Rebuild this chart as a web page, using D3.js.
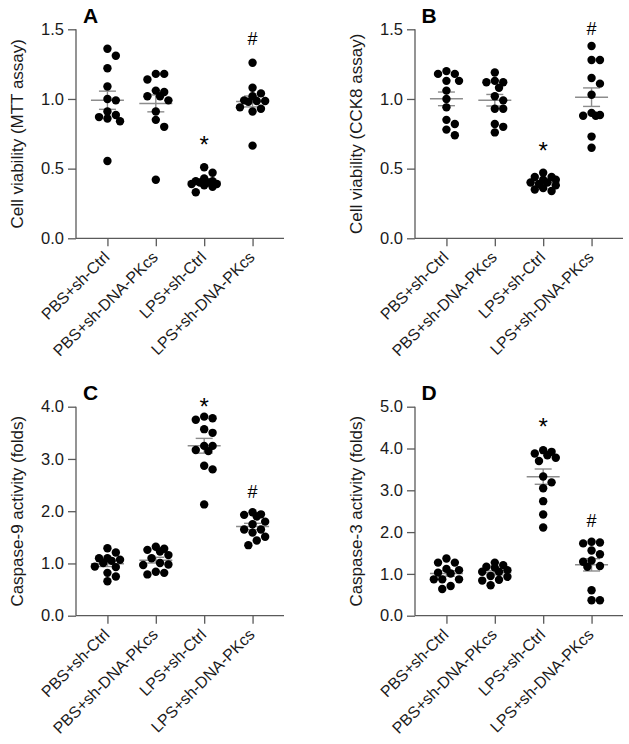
<!DOCTYPE html>
<html>
<head>
<meta charset="utf-8">
<script src="https://cdn.jsdelivr.net/npm/d3@7"></script>
<style>
  html, body { margin: 0; padding: 0; background: #fff; }
  svg { display: block; }
  text { font-family: "Liberation Sans", Arial, sans-serif; }
</style>
</head>
<body>
<svg id="chart" width="629" height="744"></svg>
<script>
// ---------------- DATA ----------------
const categories = ["PBS+sh-Ctrl", "PBS+sh-DNA-PKcs", "LPS+sh-Ctrl", "LPS+sh-DNA-PKcs"];

const mttValues = [
  [1.36, 1.31, 1.22, 1.09, 1.00, 0.99, 0.91, 0.885, 0.86, 0.87, 0.84, 0.555],
  [1.14, 1.18, 1.18, 1.02, 1.06, 1.02, 1.05, 0.99, 0.85, 0.91, 0.80, 0.42],
  [0.51, 0.47, 0.43, 0.41, 0.40, 0.39, 0.38, 0.40, 0.39, 0.41, 0.33, 0.37],
  [1.26, 1.08, 1.04, 1.02, 0.99, 0.985, 0.98, 0.985, 0.94, 0.93, 0.91, 0.665]
];
const cck8Values = [
  [1.18, 1.13, 1.20, 1.18, 1.13, 1.06, 1.00, 0.94, 0.85, 0.82, 0.78, 0.74],
  [1.19, 1.12, 1.13, 1.12, 1.08, 1.02, 0.99, 0.93, 0.93, 0.82, 0.80, 0.76],
  [0.47, 0.44, 0.44, 0.42, 0.42, 0.40, 0.39, 0.38, 0.40, 0.36, 0.35, 0.34],
  [1.38, 1.28, 1.28, 1.15, 1.11, 1.03, 0.90, 0.88, 0.885, 0.88, 0.73, 0.65]
];
const casp9Values = [
  [1.21, 1.29, 1.01, 1.10, 1.10, 1.07, 0.93, 0.94, 0.82, 0.75, 0.66, 1.05],
  [1.32, 1.28, 1.23, 1.26, 1.16, 1.10, 0.98, 1.01, 0.97, 0.82, 0.84, 0.79],
  [3.75, 3.78, 3.81, 3.50, 3.57, 3.25, 3.25, 3.17, 3.15, 2.87, 2.80, 2.13],
  [1.93, 1.90, 1.94, 1.98, 1.75, 1.80, 1.59, 1.65, 1.65, 1.51, 1.44, 1.35]
];
const casp3Values = [
  [1.37, 1.27, 1.27, 1.09, 1.12, 1.01, 1.03, 0.87, 0.87, 0.87, 0.64, 0.71],
  [1.21, 1.27, 1.17, 1.15, 1.05, 1.09, 1.05, 0.93, 0.95, 0.84, 0.86, 0.73],
  [3.78, 3.84, 3.96, 3.88, 3.92, 3.70, 3.33, 3.19, 3.05, 2.74, 2.42, 2.11],
  [1.77, 1.73, 1.75, 1.56, 1.47, 1.32, 1.29, 1.19, 1.17, 0.61, 0.37, 0.37]
];

const ticksViability = [0, 0.5, 1.0, 1.5];
const ticksCasp9 = [0, 1, 2, 3, 4];
const ticksCasp3 = [0, 1, 2, 3, 4, 5];

const markerSymbols = ["", "", "*", "#"];
const mttMarkerAt   = [null, null, 0.71, 1.43];
const cck8MarkerAt  = [null, null, 0.665, 1.505];
const casp9MarkerAt = [null, null, 4.10, 2.37];
const casp3MarkerAt = [null, null, 4.64, 2.27];

const panels = [
  { letter: "A", title: "Cell viability (MTT assay)",   values: mttValues,   ticks: ticksViability, max: 1.5, markers: mttMarkerAt,   col: 0, row: 0 },
  { letter: "B", title: "Cell viability (CCK8 assay)",  values: cck8Values,  ticks: ticksViability, max: 1.5, markers: cck8MarkerAt,  col: 1, row: 0 },
  { letter: "C", title: "Caspase-9 activity (folds)",   values: casp9Values, ticks: ticksCasp9,     max: 4,   markers: casp9MarkerAt, col: 0, row: 1 },
  { letter: "D", title: "Caspase-3 activity (folds)",   values: casp3Values, ticks: ticksCasp3,     max: 5,   markers: casp3MarkerAt, col: 1, row: 1 }
];

// ---------------- LAYOUT ----------------
const svg = d3.select("#chart");
const colX = [76, 415];       // y-axis position per column
const rowTop = [29.3, 406.7]; // top of plot per row
const plotH = 209;
const plotW = 208;
const R = 4.2;
const axisColor = "#5a5a5a";
const semColor = "#8c8c8c";

// compact beeswarm: slots at multiples of R, limited spread, overlap allowed when crowded
function beeswarm(vals, y, cx) {
  const order = vals.map((v, i) => i).sort((a, b) => vals[b] - vals[a]);
  const placed = [];
  const out = new Array(vals.length);
  const D = 2 * R * 0.98;
  const cands = [0, R, -R, 2 * R, -2 * R, 3 * R, -3 * R];
  order.forEach(i => {
    const py = y(vals[i]);
    let best = null, bestD = -1;
    for (const off of cands) {
      const px = cx + off;
      const md = placed.length ? d3.min(placed, p => Math.hypot(p.x - px, p.y - py)) : Infinity;
      if (md >= D) { best = px; bestD = md; break; }
      if (md > bestD + 0.01) { bestD = md; best = px; }
    }
    placed.push({ x: best, y: py });
    out[i] = { x: best, y: py };
  });
  return out;
}

panels.forEach(p => {
  const x0 = colX[p.col];
  const top = rowTop[p.row];
  const bottom = top + plotH;
  const g = svg.append("g");

  const y = d3.scaleLinear().domain([0, p.max]).range([bottom, top]);
  const x = d3.scalePoint().domain(categories).range([x0, x0 + plotW]).padding(0.65);

  // y axis
  const yAxis = d3.axisLeft(y).tickValues(p.ticks).tickFormat(d3.format(".1f")).tickSize(8).tickPadding(4);
  const ya = g.append("g").attr("transform", `translate(${x0},0)`).call(yAxis);
  ya.select(".domain").attr("stroke", axisColor).attr("stroke-width", 1.3).attr("d", `M0,${top}V${bottom}`);
  ya.selectAll(".tick line").attr("stroke", axisColor).attr("stroke-width", 1.3);
  ya.selectAll(".tick text").attr("font-size", 16.5).attr("fill", "#1a1a1a")
    .attr("font-family", "'Liberation Sans', Arial, sans-serif");

  // x axis
  const xAxis = d3.axisBottom(x).tickSize(8).tickFormat("");
  const xa = g.append("g").attr("transform", `translate(0,${bottom})`).call(xAxis);
  xa.select(".domain").attr("stroke", axisColor).attr("stroke-width", 1.3).attr("d", `M${x0},0H${x0 + plotW}`);
  xa.selectAll(".tick line").attr("stroke", axisColor).attr("stroke-width", 1.3);

  // x labels rotated
  g.selectAll(".xlab").data(categories).enter().append("text")
    .attr("class", "xlab")
    .attr("transform", d => `translate(${x(d) + 3},${bottom + 20}) rotate(-45)`)
    .attr("text-anchor", "end")
    .attr("font-size", 16)
    .attr("fill", "#1a1a1a")
    .text(d => d);

  // y title
  g.append("text")
    .attr("transform", `translate(${x0 - 53},${(top + bottom) / 2}) rotate(-90)`)
    .attr("text-anchor", "middle")
    .attr("font-size", 17)
    .attr("fill", "#1a1a1a")
    .text(p.title);

  // panel letter
  g.append("text")
    .attr("x", x0 + (p.col === 0 ? 7 : 6.5))
    .attr("y", top - 6.3)
    .attr("font-size", 21)
    .attr("font-weight", "bold")
    .attr("fill", "#000")
    .text(p.letter);

  // groups
  p.values.forEach((vals, gi) => {
    const cx = x(categories[gi]);
    const mean = d3.mean(vals);
    const sem = d3.deviation(vals) / Math.sqrt(vals.length);
    const gg = g.append("g");

    // mean ± SEM lines (beneath the dots)
    gg.append("line").attr("x1", cx).attr("x2", cx)
      .attr("y1", y(mean + sem)).attr("y2", y(mean - sem))
      .attr("stroke", semColor).attr("stroke-width", 1.4);
    [mean + sem, mean - sem].forEach(v => {
      gg.append("line").attr("x1", cx - 8.5).attr("x2", cx + 8.5)
        .attr("y1", y(v)).attr("y2", y(v))
        .attr("stroke", semColor).attr("stroke-width", 1.4);
    });
    gg.append("line").attr("x1", cx - 16.5).attr("x2", cx + 16.5)
      .attr("y1", y(mean)).attr("y2", y(mean))
      .attr("stroke", semColor).attr("stroke-width", 1.5);

    const pts = beeswarm(vals, y, cx);
    gg.selectAll("circle").data(pts).enter().append("circle")
      .attr("cx", d => d.x).attr("cy", d => d.y).attr("r", R).attr("fill", "#000");

    // significance marker
    const at = p.markers[gi];
    if (at !== null) {
      const sym = markerSymbols[gi];
      const fs = sym === "*" ? 24 : 18;
      const off = sym === "*" ? 13.5 : 6.3;
      gg.append("text")
        .attr("x", cx).attr("y", y(at) + off)
        .attr("text-anchor", "middle")
        .attr("font-size", fs)
        .attr("fill", "#000")
        .text(sym);
    }
  });
});
</script>
</body>
</html>
